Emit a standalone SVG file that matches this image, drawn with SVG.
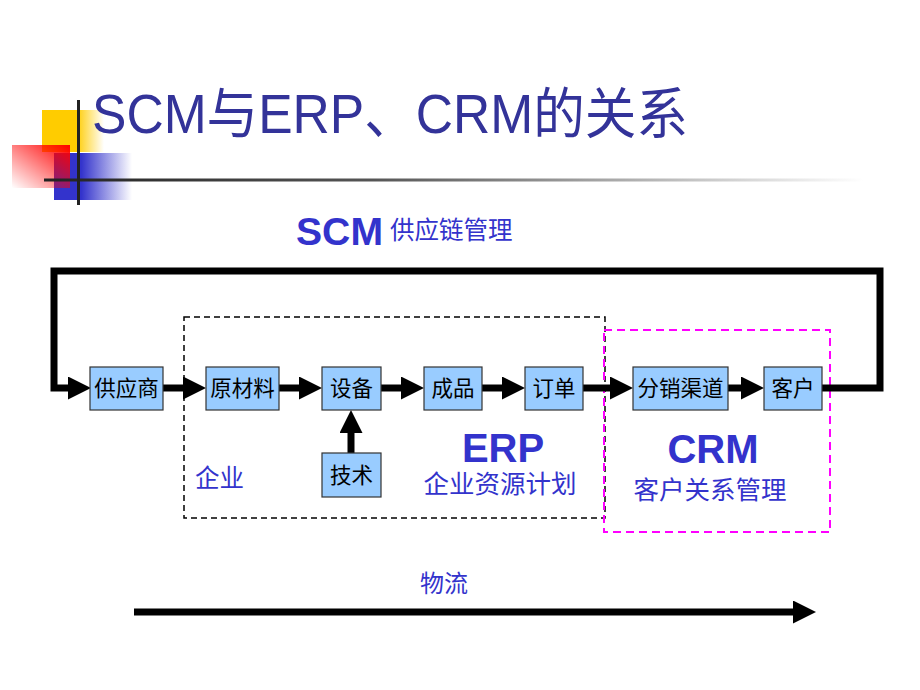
<svg xmlns="http://www.w3.org/2000/svg" width="920" height="690" viewBox="0 0 920 690">
<style>
.box{fill:#99ccff;stroke:#333;stroke-width:1.2}
.bt{font-family:"Noto Sans CJK SC","Liberation Sans",sans-serif;font-size:21.5px;fill:#000;text-anchor:middle}
.lbl{font-family:"Liberation Sans","Noto Sans CJK SC",sans-serif;fill:#3333cc}
.big{font-weight:bold;text-anchor:middle}
.sub{text-anchor:middle;font-size:25.5px}
.conn{stroke:#000;stroke-width:7;fill:none}
</style>
<defs>
<linearGradient id="gy" x1="0" y1="0" x2="1" y2="0"><stop offset="0" stop-color="#ffcc00"/><stop offset="0.55" stop-color="#ffcc00"/><stop offset="1" stop-color="#ffcc00" stop-opacity="0"/></linearGradient>
<linearGradient id="gb" x1="0" y1="0" x2="1" y2="0"><stop offset="0" stop-color="#3333cc"/><stop offset="0.35" stop-color="#3333cc"/><stop offset="1" stop-color="#3333cc" stop-opacity="0"/></linearGradient>
<linearGradient id="gr" x1="1" y1="0" x2="0" y2="1"><stop offset="0" stop-color="#ff0000"/><stop offset="1" stop-color="#ff0000" stop-opacity="0"/></linearGradient>
<linearGradient id="gl" x1="0" y1="0" x2="1" y2="0"><stop offset="0" stop-color="#222"/><stop offset="0.4" stop-color="#555"/><stop offset="1" stop-color="#fff"/></linearGradient>
<marker id="ah" viewBox="0 0 23 23" refX="0" refY="11.5" markerWidth="23" markerHeight="23" markerUnits="userSpaceOnUse" orient="auto"><path d="M0,0 L23,11.5 L0,23 z" fill="#000"/></marker>
</defs>
<rect width="920" height="690" fill="#fff"/>
<g id="decoration">
<rect x="42" y="110" width="62" height="42" fill="url(#gy)"/>
<rect x="54" y="153" width="78" height="47" fill="url(#gb)"/>
<rect x="12" y="145" width="58" height="43" fill="url(#gr)"/>
<rect x="44" y="178.5" width="820" height="3" fill="url(#gl)"/>
<rect x="77" y="100" width="3" height="105" fill="#222"/>
</g>
<text x="92" y="133" font-family="Liberation Sans,'Noto Sans CJK SC',sans-serif" font-size="55" fill="#333399" textLength="596" lengthAdjust="spacingAndGlyphs">SCM与ERP、CRM的关系</text>
<g id="scm-label">
<text x="296" y="245" class="lbl" font-weight="bold" font-size="39" textLength="87" lengthAdjust="spacingAndGlyphs">SCM</text>
<text x="390" y="239" class="lbl" font-size="24.5">供应链管理</text>
</g>
<g id="erp-region">
<rect x="184" y="317" width="421" height="201" fill="none" stroke="#000" stroke-width="1.5" stroke-dasharray="6,4"/>
<text x="195" y="487" class="lbl" font-size="24.5">企业</text>
<text x="503" y="462" class="lbl big" font-size="40">ERP</text>
<text x="500" y="493" class="lbl sub">企业资源计划</text>
</g>
<g id="crm-region">
<rect x="604" y="330" width="226" height="202" fill="none" stroke="#ff00ff" stroke-width="2" stroke-dasharray="8,5"/>
<text x="713" y="463" class="lbl big" font-size="40">CRM</text>
<text x="710" y="499" class="lbl sub">客户关系管理</text>
</g>
<g id="connectors">
<path class="conn" d="M822,388 H880 V271 H54 V388 H68" marker-end="url(#ah)"/>
<line class="conn" x1="163" y1="388" x2="183" y2="388" marker-end="url(#ah)"/>
<line class="conn" x1="279" y1="388" x2="299" y2="388" marker-end="url(#ah)"/>
<line class="conn" x1="381" y1="388" x2="401" y2="388" marker-end="url(#ah)"/>
<line class="conn" x1="482" y1="388" x2="502" y2="388" marker-end="url(#ah)"/>
<line class="conn" x1="583" y1="388" x2="610" y2="388" marker-end="url(#ah)"/>
<line class="conn" x1="728" y1="388" x2="741" y2="388" marker-end="url(#ah)"/>
<line class="conn" x1="351" y1="453" x2="351" y2="433" marker-end="url(#ah)"/>
<line class="conn" x1="134" y1="612" x2="793" y2="612" stroke-width="6" marker-end="url(#ah)"/>
</g>
<text x="420" y="592" class="lbl" font-size="24">物流</text>
<g id="n-supplier"><rect class="box" x="90" y="367" width="73" height="43"/><text class="bt" x="126.5" y="396">供应商</text></g>
<g id="n-material"><rect class="box" x="206" y="367" width="73" height="43"/><text class="bt" x="242.5" y="396">原材料</text></g>
<g id="n-equipment"><rect class="box" x="322" y="367" width="59" height="43"/><text class="bt" x="351.5" y="396">设备</text></g>
<g id="n-product"><rect class="box" x="424" y="367" width="58" height="43"/><text class="bt" x="453" y="396">成品</text></g>
<g id="n-order"><rect class="box" x="525" y="367" width="58" height="43"/><text class="bt" x="554" y="396">订单</text></g>
<g id="n-tech"><rect class="box" x="322" y="453" width="59" height="44"/><text class="bt" x="351.5" y="483">技术</text></g>
<g id="n-channel"><rect class="box" x="633" y="367" width="95" height="43"/><text class="bt" x="680.5" y="396">分销渠道</text></g>
<g id="n-customer"><rect class="box" x="764" y="367" width="58" height="43"/><text class="bt" x="793" y="396">客户</text></g>
</svg>
